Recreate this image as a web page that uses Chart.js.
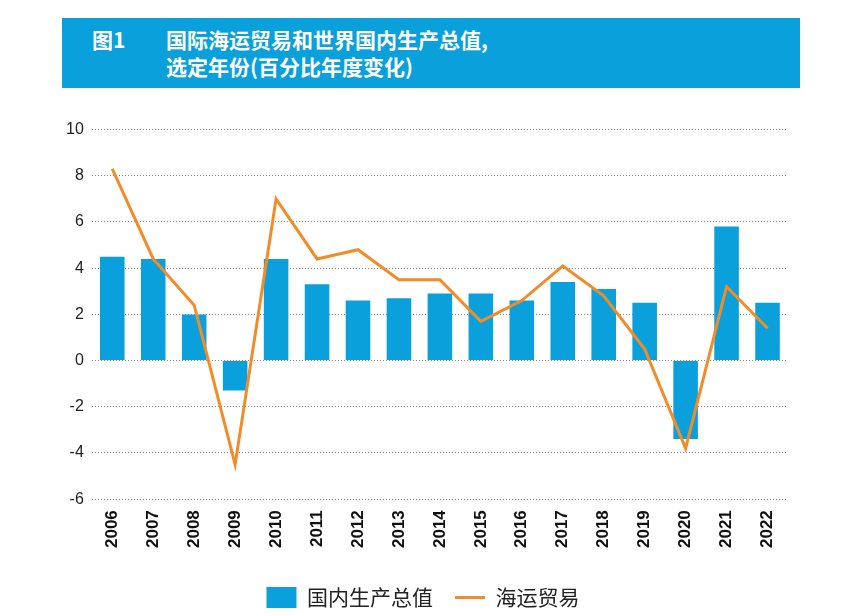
<!DOCTYPE html>
<html><head><meta charset="utf-8">
<script src="https://cdn.jsdelivr.net/npm/chart.js@4"></script>
<style>
body{margin:0;width:847px;height:616px;background:#fff;font-family:"Noto Sans CJK SC","Liberation Serif",serif;}
#hdr{position:absolute;left:62px;top:18px;width:738px;height:70px;background:#0aa0db;color:#fff;font-weight:bold;font-size:21px;line-height:27px;}
#hdr .n{position:absolute;left:30px;top:8px;}
#hdr .t{position:absolute;left:104px;top:8px;}
#wrap{position:absolute;left:58px;top:112px;width:740px;height:506px;}
</style></head><body>
<div id="hdr"><div class="n">图1</div><div class="t">国际海运贸易和世界国内生产总值,<br>选定年份(百分比年度变化)</div></div>
<div id="wrap"><canvas id="c"></canvas></div>
<script>
const years=["2006","2007","2008","2009","2010","2011","2012","2013","2014","2015","2016","2017","2018","2019","2020","2021","2022"];
const gdp=[4.5,4.4,2.0,-1.3,4.4,3.3,2.6,2.7,2.9,2.9,2.6,3.4,3.1,2.5,-3.4,5.8,2.5];
const trade=[8.3,4.4,2.4,-4.5,7.0,4.4,4.8,3.5,3.5,1.7,2.6,4.1,2.8,0.5,-3.8,3.2,1.4];
const yTicks=[10,8,6,4,2,0,-2,-4,-6];
new Chart(document.getElementById('c'),{
data:{labels:years,datasets:[
{type:'bar',label:'国内生产总值',data:gdp,backgroundColor:'#0aa0db',categoryPercentage:0.6,barPercentage:1,order:1,pointStyle:'rect'},
{type:'line',label:'海运贸易',data:trade,borderColor:'#f28c28',backgroundColor:'#f28c28',borderWidth:3,pointRadius:0,tension:0,order:0,pointStyle:'line'}
]},
options:{responsive:true,maintainAspectRatio:false,animation:false,
layout:{padding:{right:10}},
plugins:{legend:{position:'bottom',labels:{color:'#222',font:{size:21,family:'Noto Sans CJK SC'},usePointStyle:true,pointStyleWidth:30,padding:22,sort:(a,b)=>a.datasetIndex-b.datasetIndex}},tooltip:{enabled:false}},
scales:{
x:{afterFit(s){s.height+=14;},grid:{display:false},border:{display:false},ticks:{color:'#111',font:{size:17,weight:'bold',family:'Liberation Sans'},maxRotation:90,minRotation:90}},
y:{min:-6,max:10,afterBuildTicks(a){a.ticks=yTicks.map(v=>({value:v}));},border:{display:false,dash:[1,2]},grid:{color:'#888',lineWidth:1,drawTicks:false},ticks:{color:'#222',padding:8,font:{size:16,family:'Liberation Sans'}}}
}}});
</script></body></html>
